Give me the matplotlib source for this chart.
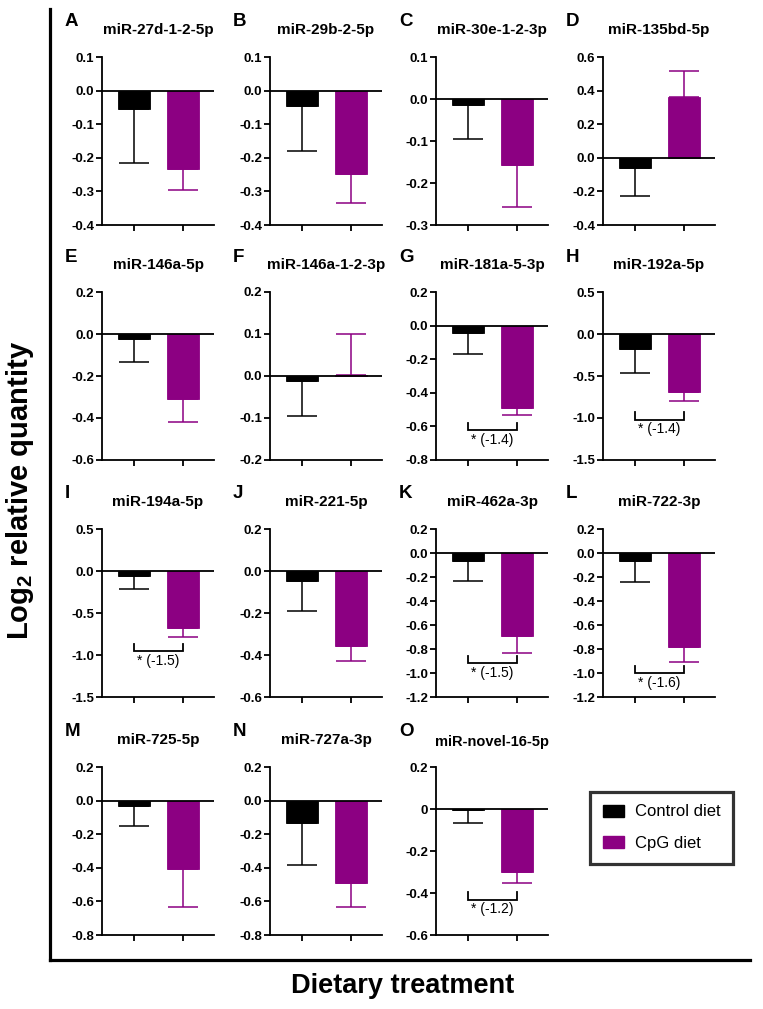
import matplotlib
matplotlib.use('Agg')
import matplotlib.pyplot as plt
from matplotlib.lines import Line2D
from matplotlib.patches import Patch

plt.rcParams['font.family'] = ['Liberation Sans', 'DejaVu Sans']
plt.rcParams['axes.unicode_minus'] = False
plt.rcParams['mathtext.fontset'] = 'custom'
plt.rcParams['mathtext.rm'] = 'Liberation Sans:bold'
plt.rcParams['mathtext.it'] = 'Liberation Sans:bold'
plt.rcParams['mathtext.bf'] = 'Liberation Sans:bold'

# ---- data (log2 relative quantity, mean and one-sided error) ----
letters = list('ABCDEFGHIJKLMNO')
names = ['miR-27d-1-2-5p', 'miR-29b-2-5p', 'miR-30e-1-2-3p', 'miR-135bd-5p',
         'miR-146a-5p', 'miR-146a-1-2-3p', 'miR-181a-5-3p', 'miR-192a-5p',
         'miR-194a-5p', 'miR-221-5p', 'miR-462a-3p', 'miR-722-3p',
         'miR-725-5p', 'miR-727a-3p', 'miR-novel-16-5p']
ctrl_mean = [-0.056, -0.045, -0.015, -0.059, -0.024, -0.013, -0.042, -0.174,
             -0.055, -0.048, -0.064, -0.066, -0.034, -0.136, -0.006]
ctrl_err = [0.158, 0.134, 0.080, 0.168, 0.108, 0.082, 0.128, 0.285,
            0.163, 0.144, 0.172, 0.172, 0.120, 0.247, 0.059]
cpg_mean = [-0.234, -0.248, -0.157, 0.362, -0.309, 0.003, -0.493, -0.689,
            -0.673, -0.357, -0.690, -0.783, -0.407, -0.490, -0.300]
cpg_err = [0.062, 0.087, 0.099, 0.152, 0.111, 0.097, 0.040, 0.111,
           0.111, 0.072, 0.142, 0.127, 0.227, 0.146, 0.053]

y_ticks = [
    [-0.4, -0.3, -0.2, -0.1, 0.0, 0.1],
    [-0.4, -0.3, -0.2, -0.1, 0.0, 0.1],
    [-0.3, -0.2, -0.1, 0.0, 0.1],
    [-0.4, -0.2, 0.0, 0.2, 0.4, 0.6],
    [-0.6, -0.4, -0.2, 0.0, 0.2],
    [-0.2, -0.1, 0.0, 0.1, 0.2],
    [-0.8, -0.6, -0.4, -0.2, 0.0, 0.2],
    [-1.5, -1.0, -0.5, 0.0, 0.5],
    [-1.5, -1.0, -0.5, 0.0, 0.5],
    [-0.6, -0.4, -0.2, 0.0, 0.2],
    [-1.2, -1.0, -0.8, -0.6, -0.4, -0.2, 0.0, 0.2],
    [-1.2, -1.0, -0.8, -0.6, -0.4, -0.2, 0.0, 0.2],
    [-0.8, -0.6, -0.4, -0.2, 0.0, 0.2],
    [-0.8, -0.6, -0.4, -0.2, 0.0, 0.2],
    [-0.6, -0.4, -0.2, 0.0, 0.2],
]
o_tick_labels = ['-0.6', '-0.4', '-0.2', '0', '0.2']

sig_text = {'G': '* (-1.4)', 'H': '* (-1.4)', 'I': '* (-1.5)',
            'K': '* (-1.5)', 'L': '* (-1.6)', 'O': '* (-1.2)'}
sig_y = {'G': -0.624, 'H': -1.018, 'I': -0.954,
         'K': -0.920, 'L': -1.004, 'O': -0.433}

groups = ['Control diet', 'CpG diet']
purple = '#8C0082'
colors = ['black', purple]

# ---- layout (pixels) ----
W_PX, H_PX = 763, 1009
col_x = [102, 270, 436, 603]
row_y = [57, 292, 529, 767]
AW, AH = 112, 168

fig = plt.figure(figsize=(W_PX / 100, H_PX / 100), dpi=100)

for i in range(len(names)):
    r, c = divmod(i, 4)
    ax = fig.add_axes([col_x[c] / W_PX, 1 - (row_y[r] + AH) / H_PX, AW / W_PX, AH / H_PX])

    means = [ctrl_mean[i], cpg_mean[i]]
    errs = [ctrl_err[i], cpg_err[i]]
    ax.bar([0, 1], means, width=0.66, color=colors, edgecolor=colors, linewidth=0.6, zorder=2)
    for x in range(2):
        if means[x] >= 0:
            yerr = [[0], [errs[x]]]
        else:
            yerr = [[errs[x]], [0]]
        ax.errorbar([x], [means[x]], yerr=yerr, fmt='none', ecolor=colors[x],
                    elinewidth=1.1, capsize=11, capthick=1.1, zorder=1)
    ax.axhline(0, color='black', lw=1.3, zorder=3)

    ticks = y_ticks[i]
    ax.set_xlim(-0.66, 1.64)
    ax.set_ylim(ticks[0], ticks[-1])
    ax.set_xticks([0, 1])
    ax.set_xticklabels([])
    ax.set_yticks(ticks)
    if letters[i] == 'O':
        labels = o_tick_labels
    else:
        labels = ['%.1f' % t for t in ticks]
    ax.set_yticklabels(labels, fontsize=9.5, fontweight='bold')
    ax.tick_params(axis='both', direction='out', length=4, width=1.3, pad=1.5)
    for s in ['top', 'right']:
        ax.spines[s].set_visible(False)
    for s in ['left', 'bottom']:
        ax.spines[s].set_linewidth(1.3)

    # titles
    tsize = 10.5 if letters[i] == 'O' else 11
    ty = 1 + 27 / AH if letters[i] != 'O' else 1 + 25 / AH
    ax.text(0.5, ty, names[i], transform=ax.transAxes, ha='center', va='center',
            fontsize=tsize, fontweight='bold')
    ax.text(-37 / AW, 1 + 35 / AH, letters[i], transform=ax.transAxes, ha='left',
            va='center', fontsize=13.5, fontweight='bold')

    # significance bracket
    if letters[i] in sig_text:
        span = ticks[-1] - ticks[0]
        yb = sig_y[letters[i]]
        tip = 0.045 * span
        ax.plot([0, 0, 1, 1], [yb + tip, yb, yb, yb + tip], color='black', lw=1.3,
                solid_joinstyle='miter', zorder=3)
        ax.text(0.5, yb - 0.056 * span, sig_text[letters[i]], ha='center', va='center',
                fontsize=10)

# outer frame lines
fig.add_artist(Line2D([50 / W_PX, 50 / W_PX], [1 - 9 / H_PX, 1 - 960 / H_PX],
                      transform=fig.transFigure, color='black', lw=2.3))
fig.add_artist(Line2D([50 / W_PX, 750 / W_PX], [1 - 960 / H_PX, 1 - 960 / H_PX],
                      transform=fig.transFigure, color='black', lw=2.3))

fig.text(20 / W_PX, 1 - 490 / H_PX, r'Log$_\mathrm{2}$ relative quantity', rotation=90,
         ha='center', va='center', fontsize=21, fontweight='bold')
fig.text(403 / W_PX, 1 - 986 / H_PX, 'Dietary treatment', ha='center', va='center',
         fontsize=19.5, fontweight='bold')

handles = [Patch(facecolor=colors[k], edgecolor=colors[k]) for k in range(2)]
leg = fig.legend(handles, groups, loc='upper left', bbox_to_anchor=(590 / W_PX, 1 - 792 / H_PX),
                 frameon=True, fancybox=False, edgecolor='black', fontsize=12,
                 handlelength=1.3, handleheight=0.75, handletextpad=0.65, borderpad=0.75,
                 labelspacing=1.0, borderaxespad=0)
leg.get_frame().set_linewidth(2.3)

fig.savefig('out.png', dpi=100)
